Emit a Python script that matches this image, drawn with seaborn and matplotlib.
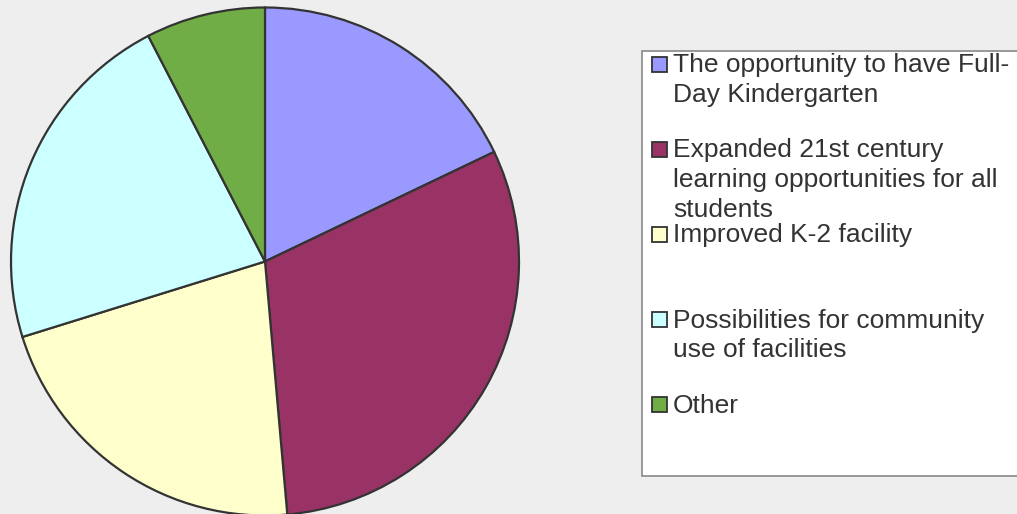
import matplotlib
matplotlib.use("Agg")
import matplotlib.pyplot as plt
import seaborn as sns
from matplotlib.patches import Rectangle

categories = [
    "The opportunity to have Full-\nDay Kindergarten",
    "Expanded 21st century\nlearning opportunities for all\nstudents",
    "Improved K-2 facility",
    "Possibilities for community\nuse of facilities",
    "Other",
]
values = [17.9, 30.7, 21.6, 22.2, 7.6]
colors = ["#9999FF", "#993366", "#FFFFCC", "#CCFFFF", "#70AD47"]

sns.set_theme(style="white")
plt.rcParams["font.family"] = ["Liberation Sans", "DejaVu Sans"]

W, H, DPI = 1017, 514, 100
fig = plt.figure(figsize=(W / DPI, H / DPI), dpi=DPI, facecolor="#EEEEEE")

# pie axes: center (265, 261.5) px, radius 254 px
cx, cy, r = 265, 261.5, 254
ax = fig.add_axes([(cx - r) / W, (H - cy - r) / H, 2 * r / W, 2 * r / H])
ax.set_facecolor("none")
wedges, _ = ax.pie(values, colors=colors, startangle=90, counterclock=False,
                   radius=1.0,
                   wedgeprops=dict(edgecolor="#333333", linewidth=1.6))
for w in wedges:
    w.set_clip_on(False)
ax.set_xlim(-1, 1)
ax.set_ylim(-1, 1)
ax.set_aspect("equal")
ax.axis("off")

# legend box
def px(x, y):
    return x / W, 1 - y / H

lx0, ly0, lx1, ly1 = 642, 51, 1030, 476
box = Rectangle(px(lx0, ly1), (lx1 - lx0) / W, (ly1 - ly0) / H,
                transform=fig.transFigure, facecolor="white",
                edgecolor="#888888", linewidth=1.2, zorder=1)
fig.add_artist(box)

first_y = 64
slot = 85.2
sq = 15
for i, (lab, col) in enumerate(zip(categories, colors)):
    yc = first_y + i * slot
    fig.add_artist(Rectangle(px(652, yc + sq / 2), sq / W, sq / H,
                             transform=fig.transFigure, facecolor=col,
                             edgecolor="#333333", linewidth=1.3, zorder=2))
    tx, ty = px(673, yc - 11)
    fig.text(tx, ty, lab, ha="left", va="top", fontsize=19,
             color="#333333", linespacing=1.3, zorder=3)

fig.savefig("out.png", dpi=DPI, facecolor=fig.get_facecolor())
